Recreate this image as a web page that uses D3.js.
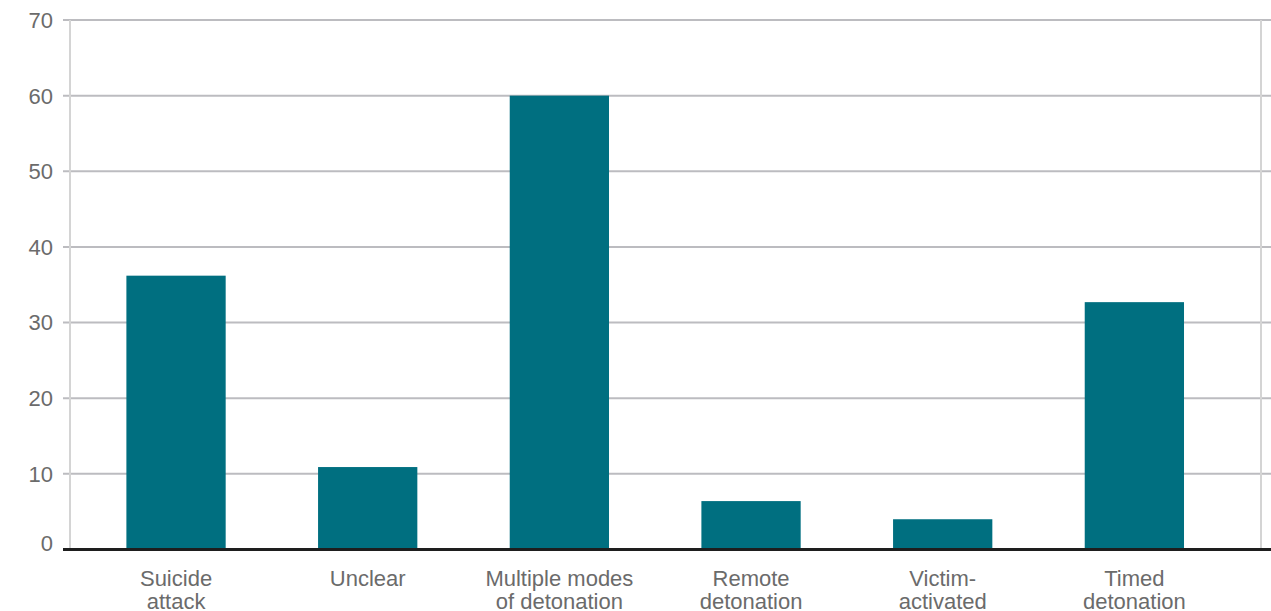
<!DOCTYPE html>
<html>
<head>
<meta charset="utf-8">
<script src="https://cdn.jsdelivr.net/npm/d3@7"></script>
<style>
  html, body { margin: 0; padding: 0; background: #fff; }
  svg { display: block; font-family: "Liberation Sans", Arial, Helvetica, sans-serif; }
</style>
</head>
<body>
<svg id="chart" width="1271" height="611"></svg>
<script>
const categories = [
  ["Suicide", "attack"],
  ["Unclear"],
  ["Multiple modes", "of detonation"],
  ["Remote", "detonation"],
  ["Victim-", "activated"],
  ["Timed", "detonation"]
];
const values = [36.2, 10.9, 60.0, 6.4, 4.0, 32.7];
const yTicks = [0, 10, 20, 30, 40, 50, 60, 70];

const W = 1271, H = 611;
const svg = d3.select("#chart");

const y = d3.scaleLinear().domain([0, 70]).range([549.5, 20]);
const x = d3.scaleBand()
  .domain(categories.map((d, i) => i))
  .range([80.2, 1230.2])
  .paddingInner(0.482)
  .paddingOuter(0.241);

const axisX = 70, tickLeft = 63, rightLine = 1261;

// gridlines
svg.append("g").selectAll("line").data(yTicks.filter(t => t > 0)).join("line")
  .attr("x1", tickLeft).attr("x2", W)
  .attr("y1", d => y(d)).attr("y2", d => y(d))
  .attr("stroke", "#bcbcc0").attr("stroke-width", 2);

// vertical axis line (left) and right border line
svg.append("line").attr("x1", axisX).attr("x2", axisX)
  .attr("y1", y(70)).attr("y2", y(0))
  .attr("stroke", "#d4d4d4").attr("stroke-width", 2);
svg.append("line").attr("x1", rightLine).attr("x2", rightLine)
  .attr("y1", y(70)).attr("y2", y(0))
  .attr("stroke", "#d4d4d4").attr("stroke-width", 2);

// y tick labels
svg.append("g").selectAll("text").data(yTicks).join("text")
  .attr("x", 53)
  .attr("y", d => y(d) + (d === 0 ? -6 : 0))
  .attr("dy", "0.36em")
  .attr("text-anchor", "end")
  .attr("fill", "#6b6b6b")
  .attr("font-size", 22)
  .text(d => d);

// bars
svg.append("g").selectAll("rect").data(values).join("rect")
  .attr("x", (d, i) => x(i))
  .attr("width", x.bandwidth())
  .attr("y", d => y(d))
  .attr("height", d => y(0) - y(d))
  .attr("fill", "#006f80");

// baseline
svg.append("line").attr("x1", tickLeft).attr("x2", W)
  .attr("y1", y(0)).attr("y2", y(0))
  .attr("stroke", "#1e1e1e").attr("stroke-width", 3);

// x labels
const lab = svg.append("g").selectAll("text").data(categories).join("text")
  .attr("text-anchor", "middle")
  .attr("fill", "#6b6b6b")
  .attr("font-size", 22)
  .attr("transform", (d, i) => `translate(${x(i) + x.bandwidth() / 2},585.5)`);
lab.selectAll("tspan").data(d => d).join("tspan")
  .attr("x", 0)
  .attr("y", (d, j) => j * 23.5)
  .text(d => d);
</script>
</body>
</html>
